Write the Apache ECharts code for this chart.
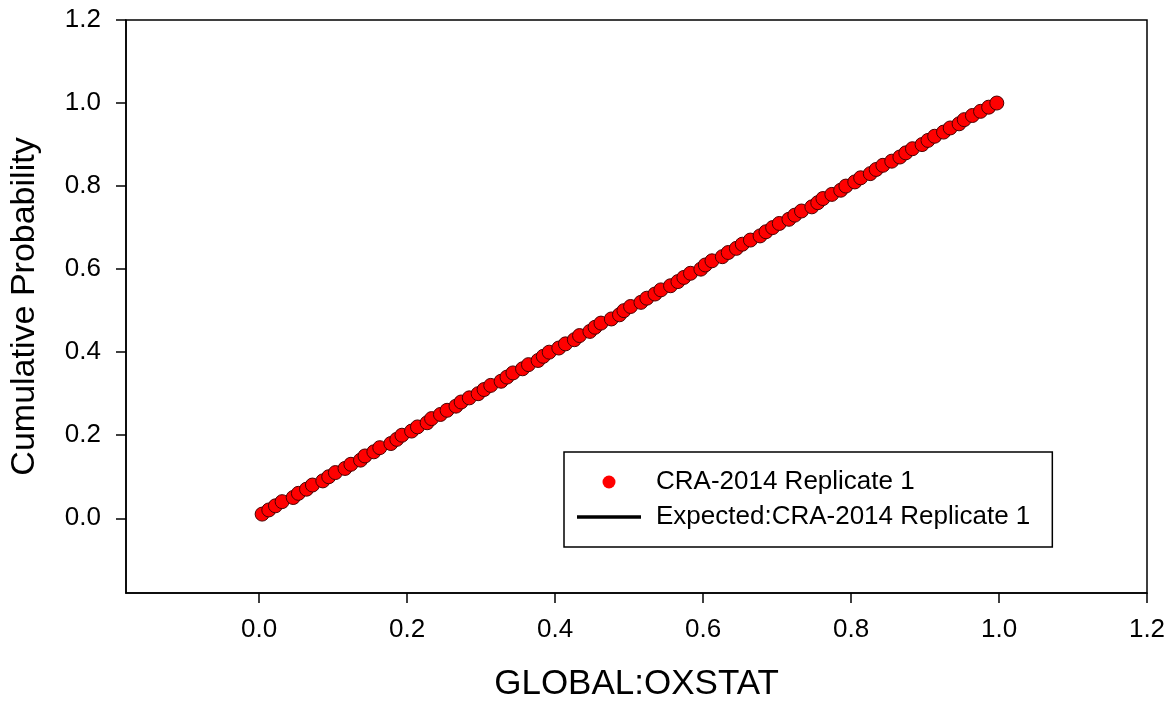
<!DOCTYPE html>
<html>
<head>
<meta charset="utf-8">
<script src="https://cdn.jsdelivr.net/npm/echarts@6/dist/echarts.min.js"></script>
<style>
  html, body { margin: 0; padding: 0; background: #ffffff; }
  #chart { width: 1175px; height: 707px; }
</style>
</head>
<body>
<div id="chart"></div>
<script>
// Observed values (x) and their cumulative probabilities (y)
const observedX = [
  0.004, 0.013, 0.022, 0.031, 0.046, 0.053, 0.064, 0.072, 0.086, 0.094,
  0.103, 0.116, 0.124, 0.137, 0.143, 0.155, 0.163, 0.178, 0.186, 0.193,
  0.206, 0.214, 0.227, 0.233, 0.245, 0.254, 0.266, 0.273, 0.284, 0.296,
  0.304, 0.313, 0.327, 0.335, 0.343, 0.356, 0.364, 0.377, 0.384, 0.392,
  0.405, 0.414, 0.426, 0.433, 0.447, 0.454, 0.462, 0.476, 0.487, 0.493,
  0.502, 0.516, 0.524, 0.535, 0.543, 0.556, 0.566, 0.574, 0.583, 0.597,
  0.603, 0.612, 0.626, 0.634, 0.645, 0.653, 0.664, 0.677, 0.685, 0.694,
  0.703, 0.716, 0.724, 0.733, 0.747, 0.755, 0.762, 0.774, 0.786, 0.793,
  0.805, 0.813, 0.826, 0.834, 0.843, 0.855, 0.866, 0.874, 0.883, 0.896,
  0.904, 0.913, 0.925, 0.934, 0.946, 0.953, 0.964, 0.975, 0.986, 0.997
];
const cumProb = [
  0.01, 0.02, 0.03, 0.04, 0.05, 0.06, 0.07, 0.08, 0.09, 0.10,
  0.11, 0.12, 0.13, 0.14, 0.15, 0.16, 0.17, 0.18, 0.19, 0.20,
  0.21, 0.22, 0.23, 0.24, 0.25, 0.26, 0.27, 0.28, 0.29, 0.30,
  0.31, 0.32, 0.33, 0.34, 0.35, 0.36, 0.37, 0.38, 0.39, 0.40,
  0.41, 0.42, 0.43, 0.44, 0.45, 0.46, 0.47, 0.48, 0.49, 0.50,
  0.51, 0.52, 0.53, 0.54, 0.55, 0.56, 0.57, 0.58, 0.59, 0.60,
  0.61, 0.62, 0.63, 0.64, 0.65, 0.66, 0.67, 0.68, 0.69, 0.70,
  0.71, 0.72, 0.73, 0.74, 0.75, 0.76, 0.77, 0.78, 0.79, 0.80,
  0.81, 0.82, 0.83, 0.84, 0.85, 0.86, 0.87, 0.88, 0.89, 0.90,
  0.91, 0.92, 0.93, 0.94, 0.95, 0.96, 0.97, 0.98, 0.99, 1.00
];
// Expected (uniform) cumulative distribution line
const expectedX = [0.0, 1.0];
const expectedY = [0.0, 1.0];
// Tick labels
const xTicks = [0.0, 0.2, 0.4, 0.6, 0.8, 1.0, 1.2];
const yTicks = [0.0, 0.2, 0.4, 0.6, 0.8, 1.0, 1.2];

const seriesName1 = 'CRA-2014 Replicate 1';
const seriesName2 = 'Expected:CRA-2014 Replicate 1';
const FONT = '"Liberation Sans", Arial, sans-serif';

const chart = echarts.init(document.getElementById('chart'), null, { renderer: 'canvas' });

const scatterData = observedX.map((x, i) => [x, cumProb[i]]);
const lineData = expectedX.map((x, i) => [x, expectedY[i]]);

chart.setOption({
  backgroundColor: '#ffffff',
  animation: false,
  textStyle: { fontFamily: FONT, color: '#000' },
  grid: {
    left: 126, right: 28, top: 20, bottom: 111,
    show: true, borderColor: '#000', borderWidth: 1.5, backgroundColor: 'transparent'
  },
  legend: {
    orient: 'vertical',
    left: 564, top: 452,
    padding: [17, 22, 17, 13],
    itemGap: 9,
    itemWidth: 64, itemHeight: 13,
    borderColor: '#000', borderWidth: 1.5,
    backgroundColor: '#fff',
    textStyle: { fontFamily: FONT, fontSize: 26, color: '#000', padding: [0, 0, 0, 10] },
    data: [
      { name: seriesName1, icon: 'circle', itemStyle: { borderWidth: 0 } },
      { name: seriesName2, icon: 'path://M0,0L64,0L64,3.5L0,3.5Z', itemStyle: { color: '#000' } }
    ]
  },
  xAxis: {
    type: 'value',
    min: -0.18, max: 1.2,
    name: 'GLOBAL:OXSTAT',
    nameLocation: 'middle',
    nameGap: 74,
    nameTextStyle: { fontFamily: FONT, fontSize: 35, color: '#000' },
    axisLine: { show: true, onZero: false, lineStyle: { color: '#000', width: 1.5 } },
    axisTick: { show: true, inside: false, length: 10, customValues: xTicks, lineStyle: { color: '#000', width: 1.5 } },
    axisLabel: {
      customValues: xTicks, margin: 24, fontSize: 26, color: '#000', fontFamily: FONT,
      formatter: v => v.toFixed(1)
    },
    splitLine: { show: false }
  },
  yAxis: {
    type: 'value',
    min: -0.18, max: 1.2,
    name: 'Cumulative Probability',
    nameLocation: 'middle',
    nameGap: 84,
    nameTextStyle: { fontFamily: FONT, fontSize: 34, color: '#000' },
    axisLine: { show: true, onZero: false, lineStyle: { color: '#000', width: 1.5 } },
    axisTick: { show: true, inside: false, length: 10, customValues: yTicks, lineStyle: { color: '#000', width: 1.5 } },
    axisLabel: {
      customValues: yTicks, margin: 25, fontSize: 26, color: '#000', fontFamily: FONT,
      formatter: v => v.toFixed(1)
    },
    splitLine: { show: false }
  },
  series: [
    {
      name: seriesName2,
      type: 'line',
      data: lineData,
      symbol: 'none',
      z: 1,
      lineStyle: { color: '#000', width: 3 },
      itemStyle: { color: '#000' }
    },
    {
      name: seriesName1,
      type: 'scatter',
      data: scatterData,
      symbol: 'circle',
      symbolSize: 14,
      z: 2,
      itemStyle: { color: '#ff0000', borderColor: '#4a0000', borderWidth: 1, opacity: 1 }
    }
  ]
});
</script>
</body>
</html>
